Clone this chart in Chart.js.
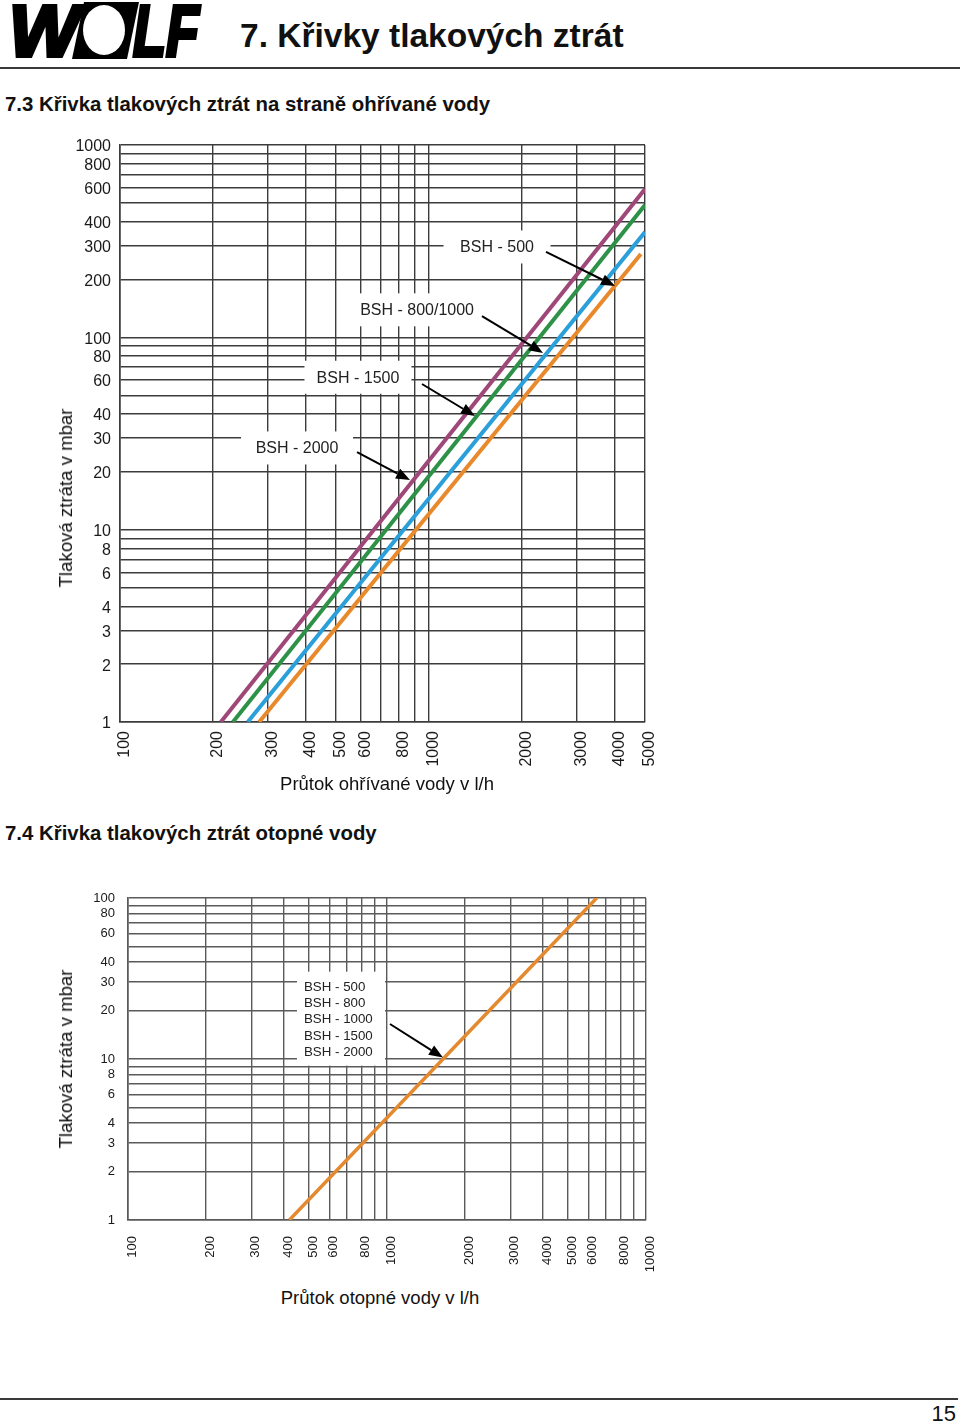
<!DOCTYPE html>
<html lang="cs">
<head>
<meta charset="utf-8">
<title>Křivky tlakových ztrát</title>
<script src="https://cdn.jsdelivr.net/npm/chart.js@4.4.1/dist/chart.umd.min.js"></script>
<style>
  html, body { margin: 0; padding: 0; background: #fff; }
  body { width: 960px; height: 1426px; position: relative; overflow: hidden;
         font-family: 'Liberation Sans', Arial, sans-serif; color: #111; }
  .t { position: absolute; white-space: nowrap; }
  .rule { position: absolute; left: 0; height: 2px; background: #3a3a3a; }
  canvas { position: absolute; left: 0; }
  .ytitle { position: absolute; white-space: nowrap; font-size: 18.6px; line-height: 22px;
            transform: translate(-50%, -50%) rotate(-90deg); }
  .xtitle { position: absolute; white-space: nowrap; font-size: 18.5px; line-height: 22px;
            transform: translateX(-50%); }
</style>
</head>
<body>

<svg class="t" style="left:0;top:0" width="210" height="64">
  <text x="9" y="56" font-family="Liberation Sans" font-weight="bold" font-style="italic"
        font-size="72" textLength="70" lengthAdjust="spacingAndGlyphs"
        stroke="#000" stroke-width="4" stroke-linejoin="miter">W</text>
  <polygon points="84,2 139,2 127,59 72,59" fill="#000"/>
  <ellipse cx="104" cy="30" rx="21" ry="25" fill="#fff"/>
  <text x="133" y="56" font-family="Liberation Sans" font-weight="bold" font-style="italic"
        font-size="72" textLength="66" lengthAdjust="spacingAndGlyphs"
        stroke="#000" stroke-width="4" stroke-linejoin="miter">LF</text>
</svg>
<div class="t" style="left:240px;top:16px;font-size:33.5px;line-height:40px;font-weight:bold">7. Křivky tlakových ztrát</div>
<div class="rule" style="top:67px;width:960px"></div>

<div class="t" style="left:5px;top:92px;font-size:20.4px;line-height:24px;font-weight:bold">7.3 Křivka tlakových ztrát na straně ohřívané vody</div>
<canvas id="c1" width="700" height="690" style="top:120px"></canvas>
<div class="ytitle" style="left:66px;top:498px">Tlaková ztráta v mbar</div>
<div class="xtitle" style="left:387px;top:773px">Průtok ohřívané vody v l/h</div>

<div class="t" style="left:5px;top:821px;font-size:20.4px;line-height:24px;font-weight:bold">7.4 Křivka tlakových ztrát otopné vody</div>
<canvas id="c2" width="700" height="410" style="top:870px"></canvas>
<div class="ytitle" style="left:66px;top:1059px">Tlaková ztráta v mbar</div>
<div class="xtitle" style="left:380px;top:1287px">Průtok otopné vody v l/h</div>

<div class="rule" style="top:1398px;width:958px"></div>
<div class="t" style="right:4px;top:1402px;font-size:22px;line-height:24px">15</div>

<script>
Chart.defaults.font.family = "'Liberation Sans', Arial, sans-serif";
Chart.defaults.color = '#1a1a1a';

// 7.3 - hot water side, one curve per tank size
var names1 = ['BSH - 2000', 'BSH - 1500', 'BSH - 800/1000', 'BSH - 500'];
var colors1 = ['#9e4778', '#2e9148', '#2b9fd9', '#e8892c'];
var flowStart1 = [212, 232, 259, 282];     // l/h at 1 mbar
var lossStart1 = [1, 1, 1, 1];
var flowEnd1 = [5000, 5000, 5000, 4850];
var lossEnd1 = [590, 488, 353, 271];       // mbar

var gridX1 = [100, 200, 300, 400, 500, 600, 700, 800, 900, 1000, 2000, 3000, 4000, 5000];
var tickX1 = [100, 200, 300, 400, 500, 600, 800, 1000, 2000, 3000, 4000, 5000];
var gridY1 = [1, 2, 3, 4, 5, 6, 7, 8, 9, 10, 20, 30, 40, 50, 60, 70, 80, 90,
              100, 200, 300, 400, 500, 600, 700, 800, 900, 1000];
var tickY1 = [1, 2, 3, 4, 6, 8, 10, 20, 30, 40, 60, 80, 100, 200, 300, 400, 600, 800, 1000];

// callouts (data units): label centre, arrow start, arrow tip
var noteText1 = ['BSH - 500', 'BSH - 800/1000', 'BSH - 1500', 'BSH - 2000'];
var noteX1 = [1660, 915, 589, 374];
var noteY1 = [295, 139, 62, 26.6];
var arrowFromX1 = [2391, 1484, 949, 585];
var arrowFromY1 = [278, 129, 57.2, 25.3];
var arrowToX1 = [4000, 2338, 1409, 868];
var arrowToY1 = [185, 83, 39, 18.1];

// 7.4 - heating water side, one common curve
var flow2 = [420, 6450];
var loss2 = [1, 100];
var gridX2 = [100, 200, 300, 400, 500, 600, 700, 800, 900, 1000,
              2000, 3000, 4000, 5000, 6000, 7000, 8000, 9000, 10000];
var tickX2 = [100, 200, 300, 400, 500, 600, 800, 1000, 2000, 3000, 4000, 5000, 6000, 8000, 10000];
var gridY2 = [1, 2, 3, 4, 5, 6, 7, 8, 9, 10, 20, 30, 40, 50, 60, 70, 80, 90, 100];
var tickY2 = [1, 2, 3, 4, 6, 8, 10, 20, 30, 40, 60, 80, 100];
var noteLines2 = ['BSH - 500', 'BSH - 800', 'BSH - 1000', 'BSH - 1500', 'BSH - 2000'];
var noteX2 = 478, noteY2 = 17.8;
var arrowFrom2 = [1027, 16.5];
var arrowTo2 = [1645, 10.2];

function drawArrow(ctx, x0, y0, x1, y1) {
  var a = Math.atan2(y1 - y0, x1 - x0), len = 14, half = 5.5;
  var bx = x1 - len * Math.cos(a), by = y1 - len * Math.sin(a);
  ctx.strokeStyle = '#000';
  ctx.fillStyle = '#000';
  ctx.lineWidth = 2;
  ctx.beginPath();
  ctx.moveTo(x0, y0);
  ctx.lineTo(bx, by);
  ctx.stroke();
  ctx.beginPath();
  ctx.moveTo(x1, y1);
  ctx.lineTo(bx + half * Math.sin(a), by - half * Math.cos(a));
  ctx.lineTo(bx - half * Math.sin(a), by + half * Math.cos(a));
  ctx.closePath();
  ctx.fill();
}

var notes1Plugin = {
  id: 'notes1',
  afterDraw: function(chart) {
    var ctx = chart.ctx, sx = chart.scales.x, sy = chart.scales.y;
    var boxW = [107, 124, 107, 112], boxH = 33;
    ctx.save();
    ctx.font = '16px "Liberation Sans", Arial, sans-serif';
    ctx.textAlign = 'center';
    ctx.textBaseline = 'middle';
    for (var i = 0; i < noteText1.length; i++) {
      var cx = sx.getPixelForValue(noteX1[i]), cy = sy.getPixelForValue(noteY1[i]);
      ctx.fillStyle = '#fff';
      ctx.fillRect(cx - boxW[i] / 2, cy - boxH / 2, boxW[i], boxH);
      ctx.fillStyle = '#222';
      ctx.fillText(noteText1[i], cx, cy + 1);
      drawArrow(ctx, sx.getPixelForValue(arrowFromX1[i]), sy.getPixelForValue(arrowFromY1[i]),
                sx.getPixelForValue(arrowToX1[i]), sy.getPixelForValue(arrowToY1[i]));
    }
    ctx.restore();
  }
};

var notes2Plugin = {
  id: 'notes2',
  afterDraw: function(chart) {
    var ctx = chart.ctx, sx = chart.scales.x, sy = chart.scales.y;
    var lx = sx.getPixelForValue(noteX2), my = sy.getPixelForValue(noteY2), step = 16.3;
    ctx.save();
    ctx.fillStyle = '#fff';
    ctx.fillRect(lx - 7, my - 47, 88, 94);
    ctx.font = '13.3px "Liberation Sans", Arial, sans-serif';
    ctx.textAlign = 'left';
    ctx.textBaseline = 'middle';
    ctx.fillStyle = '#222';
    for (var i = 0; i < noteLines2.length; i++) {
      ctx.fillText(noteLines2[i], lx, my + (i - 2) * step + 1);
    }
    drawArrow(ctx, sx.getPixelForValue(arrowFrom2[0]), sy.getPixelForValue(arrowFrom2[1]),
              sx.getPixelForValue(arrowTo2[0]), sy.getPixelForValue(arrowTo2[1]));
    ctx.restore();
  }
};

function logAxis(min, max, grid, labels, fontSize, pad, fit, isX, gridColor, shift) {
  var axis = {
    type: 'logarithmic',
    min: min,
    max: max,
    afterBuildTicks: function(scale) {
      scale.ticks = grid.map(function(v) { return { value: v }; });
    },
    ticks: {
      autoSkip: false,
      padding: pad,
      labelOffset: shift,
      color: '#1a1a1a',
      font: { size: fontSize },
      callback: function(v) { return labels.indexOf(v) >= 0 ? String(v) : ''; }
    },
    grid: { color: gridColor, lineWidth: 1.4, drawTicks: false },
    border: { color: gridColor, width: 1.6 }
  };
  if (isX) {
    axis.ticks.minRotation = 90;
    axis.ticks.maxRotation = 90;
    axis.afterFit = function(scale) { scale.height = fit; };
  } else {
    axis.afterFit = function(scale) { scale.width = fit; };
  }
  return axis;
}

var ds1 = names1.map(function(name, i) {
  return {
    label: name,
    data: [{ x: flowStart1[i], y: lossStart1[i] }, { x: flowEnd1[i], y: lossEnd1[i] }],
    borderColor: colors1[i],
    borderWidth: 4,
    pointRadius: 0,
    fill: false
  };
});

new Chart(document.getElementById('c1').getContext('2d'), {
  type: 'line',
  data: { datasets: ds1 },
  options: {
    responsive: false,
    animation: false,
    devicePixelRatio: 1,
    layout: { padding: { top: 25, right: 55, left: 0, bottom: 0 } },
    plugins: { legend: { display: false }, tooltip: { enabled: false } },
    scales: {
      x: logAxis(100, 5000, gridX1, tickX1, 16, 9, 88, true, '#3c3c3c', 5),
      y: logAxis(1, 1000, gridY1, tickY1, 16, 9, 120, false, '#3c3c3c', 2)
    }
  },
  plugins: [notes1Plugin]
});

new Chart(document.getElementById('c2').getContext('2d'), {
  type: 'line',
  data: {
    datasets: [{
      label: 'BSH',
      data: [{ x: flow2[0], y: loss2[0] }, { x: flow2[1], y: loss2[1] }],
      borderColor: '#e5892f',
      borderWidth: 3.5,
      pointRadius: 0,
      fill: false
    }]
  },
  options: {
    responsive: false,
    animation: false,
    devicePixelRatio: 1,
    layout: { padding: { top: 28, right: 54, left: 0, bottom: 0 } },
    plugins: { legend: { display: false }, tooltip: { enabled: false } },
    scales: {
      x: logAxis(100, 10000, gridX2, tickX2, 13, 16, 60, true, '#5a5a5a', 4),
      y: logAxis(1, 100, gridY2, tickY2, 13, 13, 128, false, '#5a5a5a', 0)
    }
  },
  plugins: [notes2Plugin]
});
</script>
</body>
</html>
